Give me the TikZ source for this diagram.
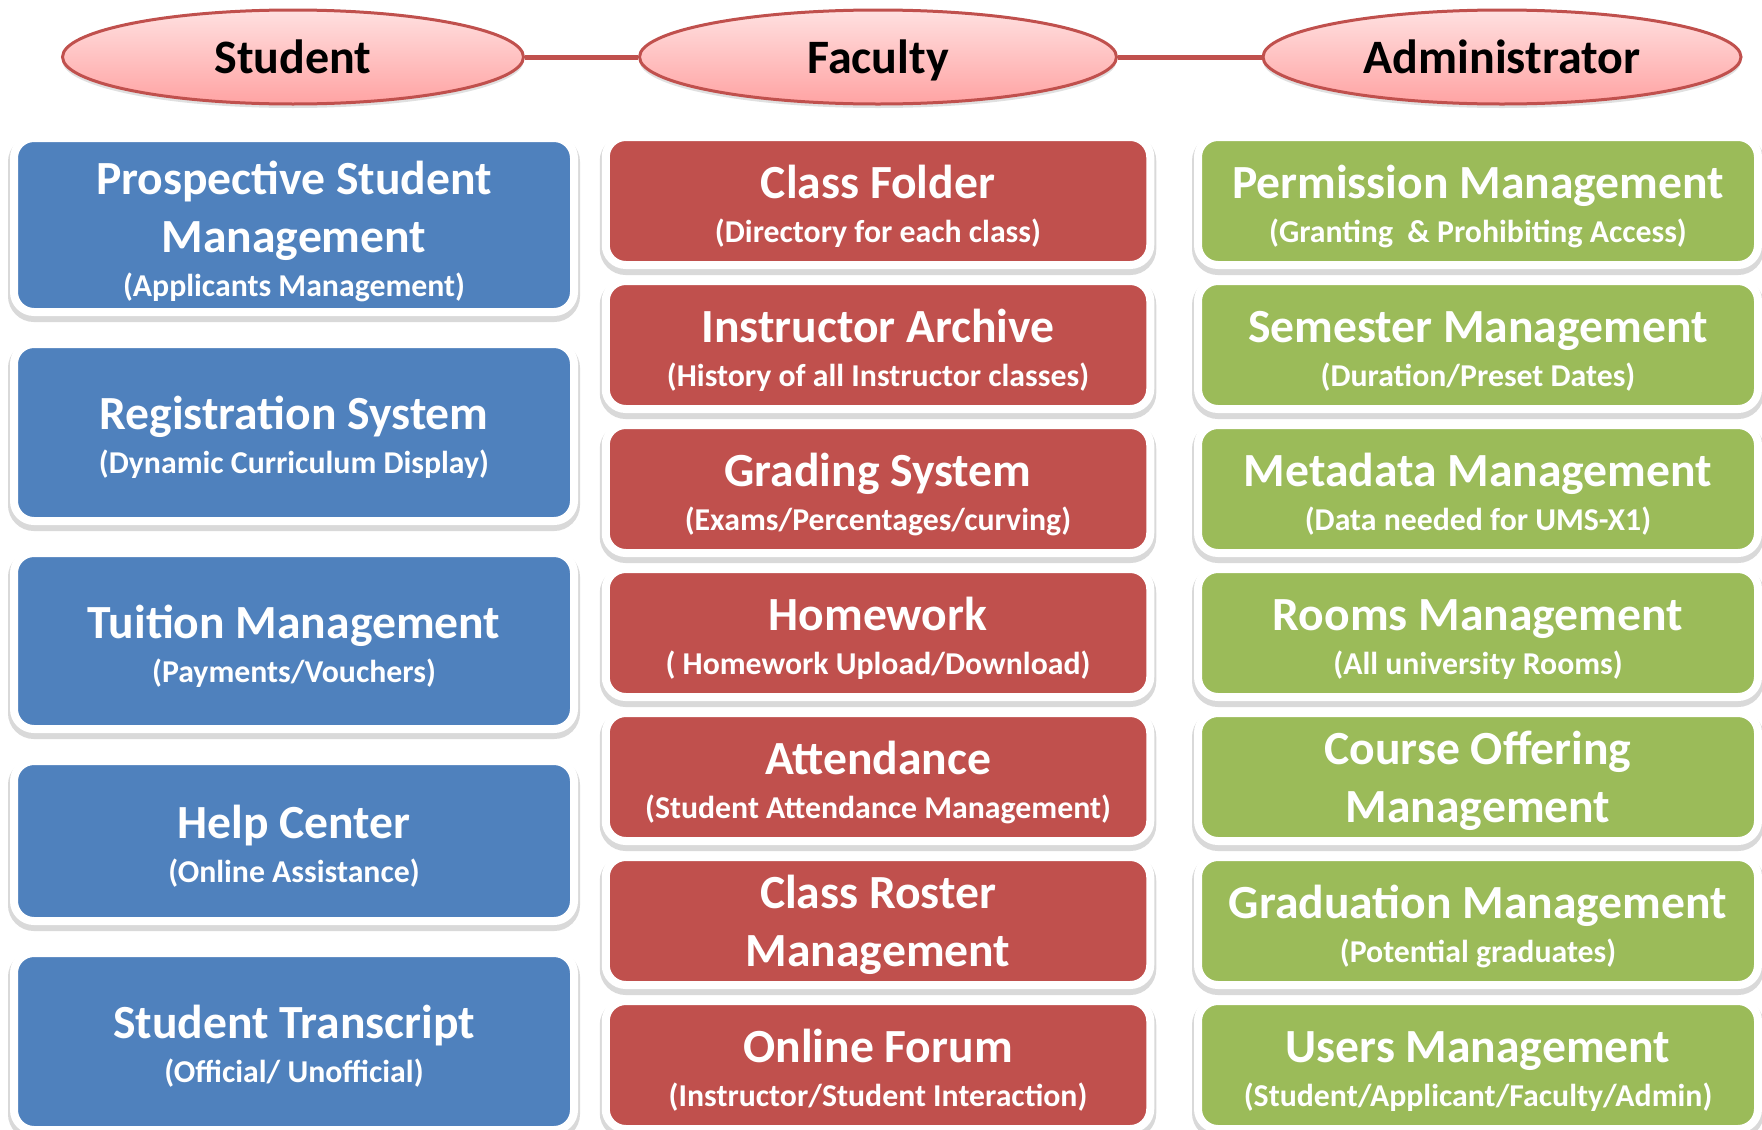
\documentclass[tikz,border=0pt]{standalone}
\usepackage{fontspec}
\setmainfont{Carlito}
\usepackage{tikz}
\usepackage{xcolor}
\usetikzlibrary{shapes.geometric, positioning, calc}

\definecolor{stublue}{HTML}{4F81BD}
\definecolor{facred}{HTML}{C0504D}
\definecolor{admgreen}{HTML}{9BBB59}
\definecolor{pinktop}{HTML}{FFE0E0}
\definecolor{pinkbot}{HTML}{FFA3A3}

\tikzset{
  role/.style={ellipse, draw=facred, line width=3pt, top color=pinktop, bottom color=pinkbot,
    minimum height=94pt, inner sep=0pt, text height=33pt, text depth=0pt,
    font=\fontsize{48}{52}\selectfont\bfseries,
    preaction={fill=black, opacity=0.12, transform canvas={yshift=-4pt}}},
  link/.style={draw=facred, line width=5pt},
  modbox/.style={rectangle, rounded corners=20pt, draw=white, line width=8pt, fill=#1,
    minimum width=560pt, inner sep=0pt,
    preaction={draw=black, opacity=0.15, line width=12pt, transform canvas={yshift=-4pt}}},
  titleline/.style={anchor=base, text=white, inner sep=0pt, font=\fontsize{47.6}{52}\selectfont\bfseries},
  subline/.style={anchor=base, text=white, inner sep=0pt, font=\fontsize{31.8}{36}\selectfont\bfseries}
}

\begin{document}
\begin{tikzpicture}[x=1pt, y=-1pt]
\useasboundingbox[fill=white] (0,0) rectangle (1762,1130);

% the three roles
\node[role, minimum width=461pt] (student) at (293,57) {Student};
\node[role, minimum width=477pt] (faculty) at (878,57) {Faculty};
\node[role, minimum width=478pt] (admin) at (1502,57) {Administrator};
\draw[link] (student.east) -- (faculty.west);
\draw[link] (faculty.east) -- (admin.west);

% module boxes
\foreach \i/\c/\h in {1/225/166, 2/432.5/169, 3/641/168, 4/841/152, 5/1041.5/169}
  \node[modbox=stublue, minimum height=\h+8] (st\i) at (294,\c) {};
\foreach \i in {1,...,7} {
  \node[modbox=facred, minimum width=544.5pt, minimum height=128pt] (fa\i) at (878,{201+144*(\i-1)}) {};
  \node[modbox=admgreen, minimum height=128pt] (ad\i) at (1478,{201+144*(\i-1)}) {};
}

% title + subtitle
\foreach \b/\t/\s in {st2/Registration System/(Dynamic Curriculum Display),
    st3/Tuition Management/{(Payments/Vouchers)},
    st4/Help Center/(Online Assistance),
    st5/Student Transcript/{(Official/ Unofficial)},
    fa1/Class Folder/(Directory for each class),
    fa2/Instructor Archive/(History of all Instructor classes),
    fa3/Grading System/{(Exams/Percentages/curving)},
    fa4/Homework/{( Homework Upload/Download)},
    fa5/Attendance/(Student Attendance Management),
    fa7/Online Forum/{(Instructor/Student Interaction)},
    ad1/Permission Management/(Granting~ \& Prohibiting Access),
    ad2/Semester Management/{(Duration/Preset Dates)},
    ad3/Metadata Management/(Data needed for UMS-X1),
    ad4/Rooms Management/(All university Rooms),
    ad6/Graduation Management/(Potential graduates),
    ad7/Users Management/{(Student/Applicant/Faculty/Admin)}} {
  \node[titleline] (\b-t) at ($(\b.center)+(0,-3)$) {\t};
  \node[subline] (\b-s) at ($(\b.center)+(0,41)$) {\s};
}

% titles on two lines
\node[titleline] (st1-t) at ($(st1.center)+(0,-31)$) {Prospective Student};
\node[titleline] (st1-u) at ($(st1.center)+(0,27)$) {Management};
\node[subline] (st1-s) at ($(st1.center)+(0,71)$) {(Applicants Management)};
\node[titleline] (fa6-t) at ($(fa6.center)+(0,-13)$) {Class Roster};
\node[titleline] (fa6-u) at ($(fa6.center)+(0,45)$) {Management};
\node[titleline] (ad5-t) at ($(ad5.center)+(0,-13)$) {Course Offering};
\node[titleline] (ad5-u) at ($(ad5.center)+(0,45)$) {Management};
\end{tikzpicture}
\end{document}
